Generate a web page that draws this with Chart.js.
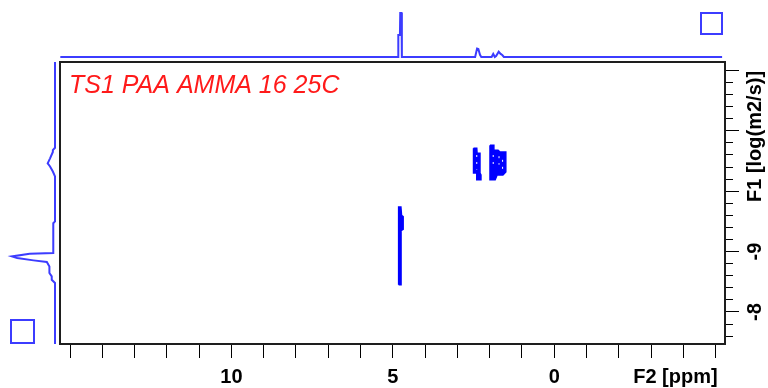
<!DOCTYPE html>
<html>
<head>
<meta charset="utf-8">
<script src="https://cdn.jsdelivr.net/npm/chart.js@4.4.0/dist/chart.umd.min.js"></script>
<style>
  html, body { margin: 0; padding: 0; background: #fff; }
  #wrap { position: relative; width: 768px; height: 388px; }
  #wrap canvas { position: absolute; left: 0; top: 0; }
</style>
</head>
<body>
<div id="wrap">
  <canvas id="main" width="768" height="388"></canvas>
  <canvas id="projTop" width="768" height="62"></canvas>
  <canvas id="projLeft" width="60" height="388"></canvas>
</div>
<script>
// axis ranges (F2 chemical shift, reversed; F1 log diffusion, reversed)
const f2Min = -5.29, f2Max = 15.31;
const f1Min = -12.14, f1Max = -7.47;
const f2Labels = [10, 5, 0];
const f1Labels = [-9, -8];
const sampleName = 'TS1 PAA AMMA 16 25C';

// F2 projection (1D spectrum on top)
const topPpm = [15.3, 4.86, 4.83, 4.83, 4.78, 4.77, 4.73, 4.72, 4.69, 2.45, 2.39, 2.35, 2.30, 2.26, 1.94, 1.89, 1.84, 1.80, 1.72, 1.66, 1.61, 1.56, -5.2];
const topInt = [0, 0, 0, 50, 50, 100, 100, 0, 0, 0, 19, 18, 5, 0, 0, 7, 0, 2, 12, 7, 4.5, 0, 0];

// F1 projection (diffusion trace on the left)
const leftLogD = [-12.14, -10.72, -10.68, -10.65, -10.545, -10.463, -10.41, -10.327, -10.245, -9.5, -9.47, -8.977, -8.965, -8.92, -8.894, -8.855, -8.828, -8.755, -8.645, -8.589, -8.534, -8.48, -7.47];
const leftInt = [0, 0, 5, 5, 11.5, 17, 11.5, 5, 0, 0, 4, 4, 59, 100, 88, 50, 19, 13, 13, 7.6, 7.6, 0, 0];

// contour outlines of the cross peaks
const waterF2 = [4.82, 4.82, 4.75, 4.73, 4.68, 4.68, 4.745, 4.745, 4.82];
const waterF1 = [-8.45, -9.74, -9.74, -9.60, -9.58, -9.37, -9.35, -8.45, -8.45];
const peakAF2 = [2.50, 2.40, 2.39, 2.30, 2.30, 2.27, 2.27, 2.40, 2.40, 2.50, 2.50];
const peakAF1 = [-10.71, -10.71, -10.63, -10.63, -10.30, -10.27, -10.19, -10.19, -10.30, -10.30, -10.71];
const peakBF2 = [1.99, 1.87, 1.87, 1.74, 1.68, 1.50, 1.50, 1.59, 1.77, 1.83, 1.99, 1.99];
const peakBF1 = [-10.76, -10.76, -10.68, -10.68, -10.65, -10.65, -10.32, -10.27, -10.27, -10.19, -10.19, -10.76];
// small gaps between contour levels
const gapsF2 = [[2.40, 2.40], [1.89, 1.89], [1.71, 1.71], [1.60, 1.60]];
const gapsF1 = [[-10.60, -10.36], [-10.60, -10.38], [-10.58, -10.44], [-10.52, -10.36]];

const projBlue = '#3c3cff';
const peakBlue = '#0000ff';

const pts = (xs, ys) => xs.map((x, i) => ({ x: x, y: ys[i] }));
const isWhole = v => Math.abs(v - Math.round(v)) < 1e-6;

const contour = (xs, ys) => ({
  data: pts(xs, ys), showLine: true, fill: 'shape', pointRadius: 0,
  borderColor: peakBlue, backgroundColor: peakBlue, borderWidth: 1.5, order: 1
});

const datasets = [contour(waterF2, waterF1), contour(peakAF2, peakAF1), contour(peakBF2, peakBF1)];
gapsF2.forEach((g, i) => {
  datasets.push({ data: pts(g, gapsF1[i]), showLine: true, pointRadius: 0,
    borderColor: '#ffffff', borderWidth: 1, borderDash: [2, 5], order: 0 });
});

const nmrFrame = {
  id: 'nmrFrame',
  afterDraw(chart) {
    const { ctx, chartArea: a, scales: { x, y } } = chart;
    const al = p => Math.round(p - 0.5) + 0.5;
    ctx.save();
    // longer marks on whole units
    ctx.strokeStyle = '#000';
    ctx.lineWidth = 1;
    ctx.beginPath();
    x.ticks.forEach(t => {
      if (!isWhole(t.value)) return;
      const px = al(x.getPixelForValue(t.value));
      ctx.moveTo(px, a.bottom); ctx.lineTo(px, a.bottom + 14);
    });
    y.ticks.forEach(t => {
      if (!isWhole(t.value)) return;
      const py = al(y.getPixelForValue(t.value));
      ctx.moveTo(a.right, py); ctx.lineTo(a.right + 14, py);
    });
    ctx.stroke();

    // plot frame
    ctx.strokeStyle = '#1e1e1e';
    ctx.lineWidth = 2;
    ctx.strokeRect(a.left, a.top, a.right - a.left, a.bottom - a.top);

    // F1 labels, rotated like TopSpin
    ctx.fillStyle = '#000';
    ctx.font = 'bold 20px "Liberation Sans", Arial, sans-serif';
    ctx.textBaseline = 'middle';
    f1Labels.forEach(v => {
      ctx.save();
      ctx.translate(a.right + 30, y.getPixelForValue(v));
      ctx.rotate(-Math.PI / 2);
      ctx.textAlign = 'center';
      ctx.fillText(String(v), 0, 0);
      ctx.restore();
    });
    ctx.save();
    ctx.translate(a.right + 30, a.top + 140);
    ctx.rotate(-Math.PI / 2);
    ctx.textAlign = 'left';
    ctx.fillText('F1 [log(m2/s)]', 0, 0);
    ctx.restore();

    // F2 title on the label row
    ctx.textAlign = 'right';
    ctx.textBaseline = 'alphabetic';
    ctx.fillText('F2 [ppm]', x.getPixelForValue(-5) + 2, a.bottom + 39);

    // sample name
    ctx.fillStyle = '#ff1a1a';
    ctx.font = 'italic 25px "Liberation Sans", Arial, sans-serif';
    ctx.textAlign = 'left';
    ctx.fillText(sampleName, a.left + 9, a.top + 31);

    // projection boxes
    ctx.strokeStyle = projBlue;
    ctx.lineWidth = 2;
    ctx.strokeRect(a.right - 24, 13, 21, 21);
    ctx.strokeRect(11, a.bottom - 24, 23, 23);
    ctx.restore();
  }
};

const noUi = {
  responsive: false, animation: false, events: [], devicePixelRatio: 1,
  plugins: { legend: { display: false }, tooltip: { enabled: false } }
};

new Chart(document.getElementById('main'), {
  type: 'scatter',
  data: { datasets: datasets },
  options: {
    ...noUi,
    layout: { padding: { left: 60, top: 62, right: 0, bottom: 0 } },
    scales: {
      x: {
        type: 'linear', position: 'bottom', reverse: true, min: f2Min, max: f2Max,
        afterFit: s => { s.height = 44; },
        border: { display: false },
        grid: { drawOnChartArea: false, tickLength: 8, color: '#000' },
        ticks: {
          stepSize: 1, includeBounds: false, autoSkip: false, maxRotation: 0, padding: 13,
          color: '#000', font: { family: '"Liberation Sans", Arial, sans-serif', size: 20, weight: 'bold' },
          callback: v => f2Labels.includes(v) ? String(v) : ''
        }
      },
      y: {
        type: 'linear', position: 'right', reverse: true, min: f1Min, max: f1Max,
        afterFit: s => { s.width = 43; },
        border: { display: false },
        grid: { drawOnChartArea: false, tickLength: 8, color: '#000' },
        ticks: { display: false, stepSize: 0.2, includeBounds: false, autoSkip: false }
      }
    }
  },
  plugins: [nmrFrame]
});

new Chart(document.getElementById('projTop'), {
  type: 'scatter',
  data: { datasets: [{ data: pts(topPpm, topInt), showLine: true, pointRadius: 0,
    borderColor: projBlue, borderWidth: 2, clip: false }] },
  options: {
    ...noUi,
    layout: { padding: { left: 60, right: 43, top: 13, bottom: 5 } },
    scales: {
      x: { type: 'linear', display: false, reverse: true, min: f2Min, max: f2Max },
      y: { type: 'linear', display: false, min: 0, max: 100 }
    }
  }
});

new Chart(document.getElementById('projLeft'), {
  type: 'scatter',
  data: { datasets: [{ data: pts(leftInt, leftLogD), showLine: true, pointRadius: 0,
    borderColor: projBlue, borderWidth: 2, clip: false }] },
  options: {
    ...noUi,
    layout: { padding: { left: 12, right: 5, top: 62, bottom: 44 } },
    scales: {
      x: { type: 'linear', display: false, reverse: true, min: 0, max: 100 },
      y: { type: 'linear', display: false, reverse: true, min: f1Min, max: f1Max }
    }
  }
});
</script>
</body>
</html>
